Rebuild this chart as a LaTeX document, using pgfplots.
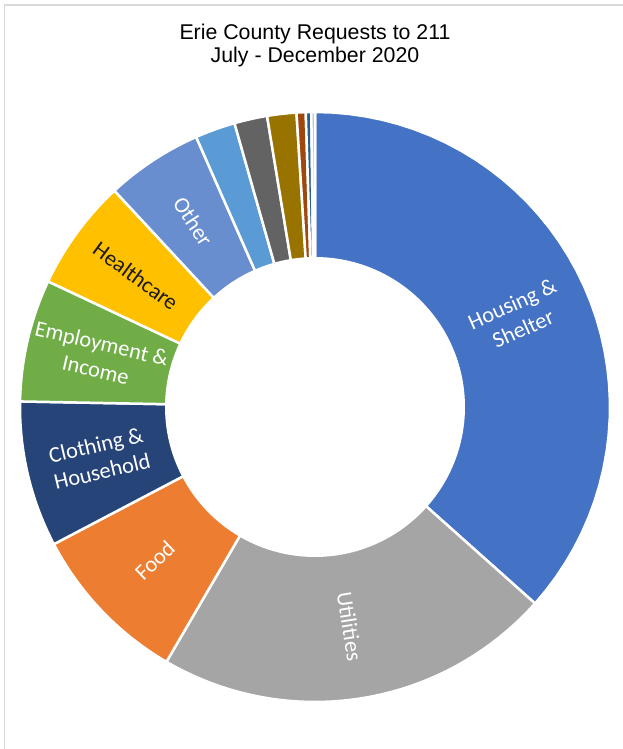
\documentclass[border=0pt]{standalone}
\usepackage{pgfplots}
\usepackage{pgfplotstable}
\pgfplotsset{compat=1.18}
\usepackage{fontspec}
\setmainfont{Liberation Sans}
\newfontfamily\labelfont{Carlito}
\newfontfamily\titlefont{Liberation Sans}

\definecolor{c0}{HTML}{4472C4}
\definecolor{c1}{HTML}{A5A5A5}
\definecolor{c2}{HTML}{ED7D31}
\definecolor{c3}{HTML}{264478}
\definecolor{c4}{HTML}{70AD47}
\definecolor{c5}{HTML}{FFC000}
\definecolor{c6}{HTML}{698ED0}
\definecolor{c7}{HTML}{5B9BD5}
\definecolor{c8}{HTML}{636363}
\definecolor{c9}{HTML}{997300}
\definecolor{c10}{HTML}{9E480E}
\definecolor{c11}{HTML}{255E91}
\definecolor{c12}{HTML}{BFBFBF}
\definecolor{framegray}{HTML}{D9D9D9}
\definecolor{labeldark}{HTML}{1A1A1A}

% share of requests (percent), clockwise from 12 o'clock
\pgfplotstableread[col sep=comma]{
idx,value,color
0,36.6,c0
1,21.8,c1
2,8.9,c2
3,8.0,c3
4,6.7,c4
5,6.1,c5
6,5.3,c6
7,2.2,c7
8,1.8,c8
9,1.6,c9
10,0.5,c10
11,0.3,c11
12,0.2,c12
}\donutdata

\newcommand\donutlabel[3]{%
  \node[font=\labelfont\fontsize{22.5}{27}\selectfont, text=#3, align=center,
        inner sep=0pt, rotate=\csname rot#1\endcsname]
    at (axis cs:\csname lx#1\endcsname,\csname ly#1\endcsname) {#2};}

\begin{document}
\begin{tikzpicture}
\useasboundingbox (0,0) rectangle (623bp,749bp);
\begin{axis}[at={(0,0)}, anchor=south west, scale only axis,
  width=623bp, height=749bp, xmin=0, xmax=623, ymin=0, ymax=749,
  hide axis, clip=false]
\def\cum{0}
\pgfplotsforeachungrouped \i in {0,...,12}{%
  \pgfplotstablegetelem{\i}{value}\of\donutdata \let\v\pgfplotsretval
  \pgfplotstablegetelem{\i}{color}\of\donutdata \let\c\pgfplotsretval
  \pgfmathsetmacro\a{90-3.6*\cum}%
  \pgfmathsetmacro\cum{\cum+\v}%
  \pgfmathsetmacro\b{90-3.6*\cum}%
  \pgfmathsetmacro\m{(\a+\b)/2}%
  \pgfmathsetmacro\mm{mod(\m+720,360)}%
  \pgfmathsetmacro\rot{((\mm>90)&&(\mm<270)) ? \mm-180 : \mm}%
  \pgfmathsetmacro\lx{315+222*cos(\m)}%
  \pgfmathsetmacro\ly{342+222*sin(\m)}%
  \expandafter\xdef\csname rot\i\endcsname{\rot}%
  \expandafter\xdef\csname lx\i\endcsname{\lx}%
  \expandafter\xdef\csname ly\i\endcsname{\ly}%
  \edef\tmp{\noexpand\addplot[fill=\c, draw=white, line width=2.5bp,
      samples at={-1,0,0.025,...,0.975,1,2}]
      ({315+295*(x>-0.5)*(x<1.5)*cos((\a)+((\b)-(\a))*x)},
       {342+295*(x>-0.5)*(x<1.5)*sin((\a)+((\b)-(\a))*x)});}%
  \tmp
}
\addplot[fill=white, draw=none, domain=0:360, samples=181]
  ({315+150*cos(x)},{342+150*sin(x)});

\donutlabel{0}{Housing \&\\Shelter}{white}
\donutlabel{1}{Utilities}{white}
\donutlabel{2}{Food}{white}
\donutlabel{3}{Clothing \&\\Household}{white}
\donutlabel{4}{Employment \&\\Income}{white}
\donutlabel{5}{Healthcare}{labeldark}
\donutlabel{6}{Other}{white}

\node[font=\titlefont\fontsize{21.4}{24}\selectfont, anchor=base, inner sep=0pt]
  at (axis cs:315,709) {Erie County Requests to 211};
\node[font=\titlefont\fontsize{21.4}{24}\selectfont, anchor=base, inner sep=0pt]
  at (axis cs:315,686) {July - December 2020};

\draw[framegray, line width=1.3bp] (axis cs:4.5,0) -- (axis cs:4.5,744) -- (axis cs:623,744);
\end{axis}
\end{tikzpicture}
\end{document}
